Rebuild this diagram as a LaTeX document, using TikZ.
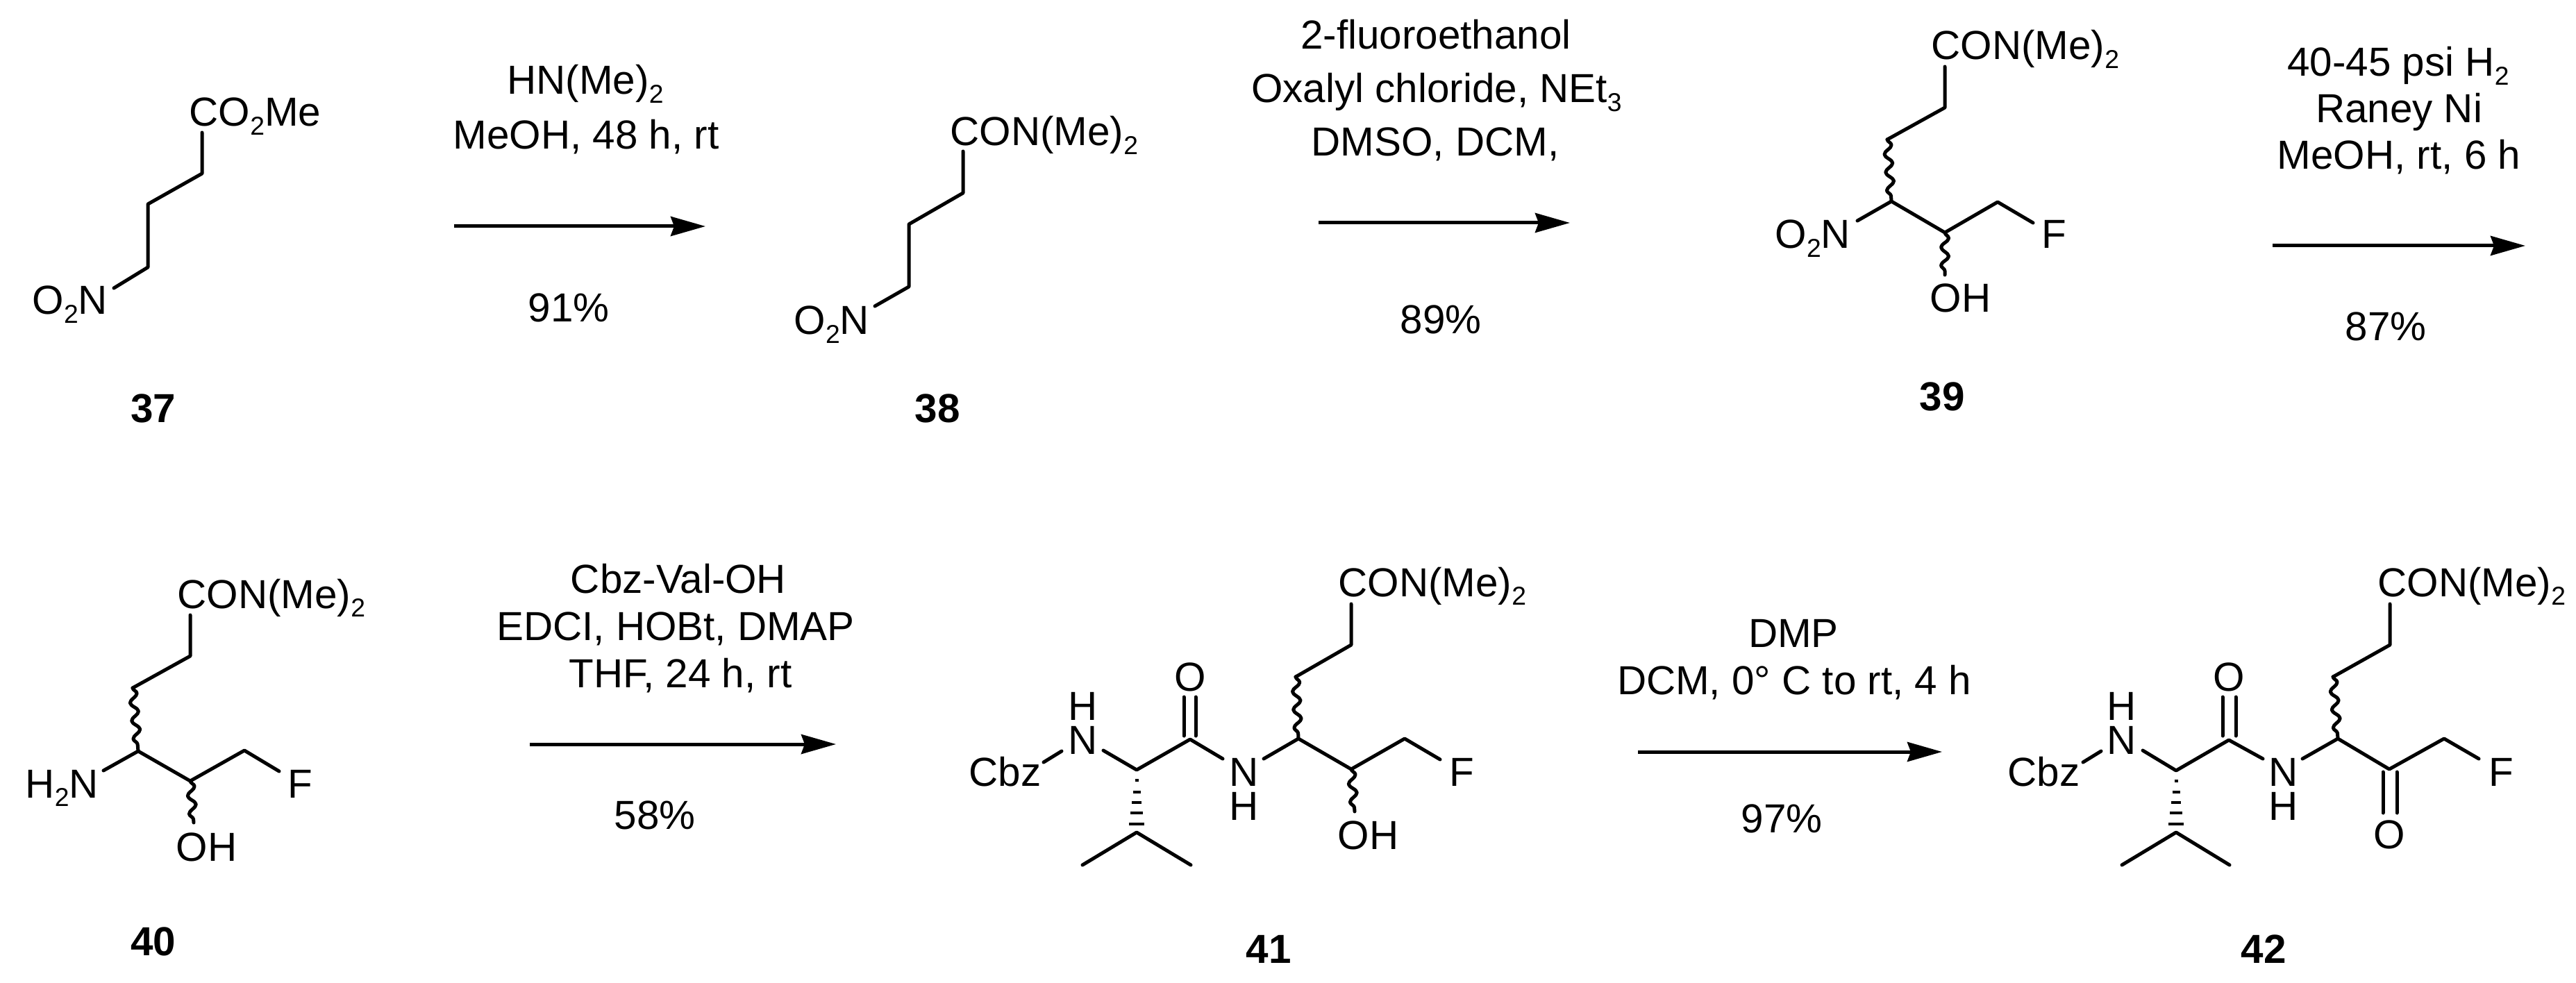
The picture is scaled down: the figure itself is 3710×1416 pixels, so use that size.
\documentclass[tikz,border=0pt]{standalone}
\usepackage{fontspec}
\setmainfont{Liberation Sans}
\usepackage{tikz}
\usetikzlibrary{arrows.meta}
\usetikzlibrary{calc}
\usetikzlibrary{decorations.pathmorphing}

\newcommand{\subs}[1]{\raisebox{-.21em}{\fontsize{10.6}{11}\selectfont #1}}
\newcommand{\hashbond}[2]{
    \foreach \t/\w in {.17/2.5,.35/5.5,.52/7,.69/9,.87/11}
        \draw[hashbar] ($(#1)!\t!(#2)+(-\w,0)$) -- ($(#1)!\t!(#2)+(\w,0)$);
}

\tikzset{
    bond/.style={line width=.05cm,line cap=round,line join=round},
    wavy/.style={bond,decorate,decoration={snake,segment length=.26cm,amplitude=.055cm}},
    hashbar/.style={line width=.04cm},
    rxn/.style={line width=.05cm,-{Stealth[length=.5cm,width=.28cm,inset=.05cm]}},
    atomlbl/.style={anchor=base west,inner sep=0pt,font=\fontsize{16.6}{18}\selectfont},
    cond/.style={anchor=base,inner sep=0pt,font=\fontsize{16.6}{18}\selectfont},
    numlbl/.style={anchor=base,inner sep=0pt,font=\fontsize{16.6}{18}\selectfont\bfseries}
}

\begin{document}
\begin{tikzpicture}[x=.01cm,y=-.01cm]
    \useasboundingbox (0,0) rectangle (3710,1416);

    % 37
    \node[atomlbl] (co37) at (272,182) {CO\subs{2}Me};
    \node[atomlbl] (no37) at (46,453) {O\subs{2}N};
    \node[numlbl] (n37) at (221,608) {37};
    \coordinate (a37) at (291,191);
    \coordinate (b37) at (291,250);
    \coordinate (c37) at (213,294);
    \coordinate (d37) at (213,385);
    \coordinate (e37) at (164,415);
    \draw[bond] (a37) -- (b37) -- (c37) -- (d37) -- (e37);

    \node[cond] (r1a) at (843,136) {HN(Me)\subs{2}};
    \node[cond] (r1b) at (844,215) {MeOH, 48 h, rt};
    \node[cond] (r1c) at (819,464) {91\%};
    \coordinate (r1s) at (654,326);
    \coordinate (r1e) at (1016,326);
    \draw[rxn] (r1s) -- (r1e);

    % 38
    \node[atomlbl] (co38) at (1368,210) {CON(Me)\subs{2}};
    \node[atomlbl] (no38) at (1143,482) {O\subs{2}N};
    \node[numlbl] (n38) at (1350,608) {38};
    \coordinate (a38) at (1387,218);
    \coordinate (b38) at (1387,278);
    \coordinate (c38) at (1309,323);
    \coordinate (d38) at (1309,413);
    \coordinate (e38) at (1260,441);
    \draw[bond] (a38) -- (b38) -- (c38) -- (d38) -- (e38);

    \node[cond] (r2a) at (2068,71) {2-fluoroethanol};
    \node[cond] (r2b) at (2069,148) {Oxalyl chloride, NEt\subs{3}};
    \node[cond] (r2c) at (2067,225) {DMSO, DCM,};
    \node[cond] (r2d) at (2075,481) {89\%};
    \coordinate (r2s) at (1899,321);
    \coordinate (r2e) at (2261,321);
    \draw[rxn] (r2s) -- (r2e);

    % 39
    \node[atomlbl] (co39) at (2781,86) {CON(Me)\subs{2}};
    \node[atomlbl] (no39) at (2556,358) {O\subs{2}N};
    \node[atomlbl] (f39) at (2940,358) {F};
    \node[atomlbl] (oh39) at (2779,450) {OH};
    \node[numlbl] (n39) at (2797,592) {39};
    \coordinate (a39) at (2801,96);
    \coordinate (b39) at (2801,155);
    \coordinate (c39) at (2718,201);
    \coordinate (d39) at (2724,290);
    \coordinate (e39) at (2675,318);
    \coordinate (g39) at (2801,335);
    \coordinate (h39) at (2877,291);
    \coordinate (i39) at (2928,321);
    \coordinate (j39) at (2801,396);
    \draw[bond] (a39) -- (b39) -- (c39);
    \draw[wavy] (c39) -- (d39);
    \draw[bond] (e39) -- (d39) -- (g39) -- (h39) -- (i39);
    \draw[wavy] (g39) -- (j39);

    \node[cond] (r3a) at (3454,110) {40-45 psi H\subs{2}};
    \node[cond] (r3b) at (3455,177) {Raney Ni};
    \node[cond] (r3c) at (3455,244) {MeOH, rt, 6 h};
    \node[cond] (r3d) at (3436,491) {87\%};
    \coordinate (r3s) at (3273,354);
    \coordinate (r3e) at (3637,354);
    \draw[rxn] (r3s) -- (r3e);

    % 40
    \node[atomlbl] (co40) at (255,876) {CON(Me)\subs{2}};
    \node[atomlbl] (nh40) at (36,1149) {H\subs{2}N};
    \node[atomlbl] (f40) at (414,1149) {F};
    \node[atomlbl] (oh40) at (253,1240) {OH};
    \node[numlbl] (n40) at (221,1376) {40};
    \coordinate (a40) at (274,886);
    \coordinate (b40) at (274,945);
    \coordinate (c40) at (191,991);
    \coordinate (d40) at (199,1082);
    \coordinate (e40) at (149,1110);
    \coordinate (g40) at (274,1125);
    \coordinate (h40) at (352,1081);
    \coordinate (i40) at (402,1111);
    \coordinate (j40) at (279,1185);
    \draw[bond] (a40) -- (b40) -- (c40);
    \draw[wavy] (c40) -- (d40);
    \draw[bond] (e40) -- (d40) -- (g40) -- (h40) -- (i40);
    \draw[wavy] (g40) -- (j40);

    \node[cond] (r4a) at (977,854) {Cbz-Val-OH};
    \node[cond] (r4b) at (973,922) {EDCI, HOBt, DMAP};
    \node[cond] (r4c) at (980,990) {THF, 24 h, rt};
    \node[cond] (r4d) at (943,1194) {58\%};
    \coordinate (r4s) at (763,1072);
    \coordinate (r4e) at (1204,1072);
    \draw[rxn] (r4s) -- (r4e);

    % 41
    \node[atomlbl] (co41) at (1927,859) {CON(Me)\subs{2}};
    \node[atomlbl] (cbz41) at (1395,1132) {Cbz};
    \node[cond] (nl41) at (1560,1086) {N};
    \node[cond] (hl41) at (1560,1037) {H};
    \node[cond] (o41) at (1714,995) {O};
    \node[cond] (nr41) at (1792,1132) {N};
    \node[cond] (hr41) at (1792,1181) {H};
    \node[atomlbl] (f41) at (2087,1132) {F};
    \node[atomlbl] (oh41) at (1926,1223) {OH};
    \node[numlbl] (n41) at (1827,1387) {41};
    \coordinate (a41) at (1946,870);
    \coordinate (b41) at (1946,929);
    \coordinate (c41) at (1866,975);
    \coordinate (d41) at (1870,1064);
    \coordinate (e41) at (1820,1093);
    \coordinate (g41) at (1946,1108);
    \coordinate (h41) at (2023,1064);
    \coordinate (i41) at (2074,1094);
    \coordinate (j41) at (1951,1169);
    \coordinate (k41) at (1761,1093);
    \coordinate (l41) at (1714,1065);
    \coordinate (m41) at (1637,1109);
    \coordinate (p41) at (1589,1081);
    \coordinate (q41) at (1529,1082);
    \coordinate (s41) at (1503,1098);
    \coordinate (u41) at (1637,1199);
    \coordinate (v41) at (1559,1246);
    \coordinate (w41) at (1715,1246);
    \coordinate (xa41) at (1705,1060);
    \coordinate (xb41) at (1705,1004);
    \coordinate (ya41) at (1722,1060);
    \coordinate (yb41) at (1722,1004);
    \draw[bond] (a41) -- (b41) -- (c41);
    \draw[wavy] (c41) -- (d41);
    \draw[bond] (e41) -- (d41) -- (g41) -- (h41) -- (i41);
    \draw[wavy] (g41) -- (j41);
    \draw[bond] (k41) -- (l41) -- (m41) -- (p41);
    \draw[bond] (q41) -- (s41);
    \draw[bond] (xa41) -- (xb41);
    \draw[bond] (ya41) -- (yb41);
    \draw[bond] (v41) -- (u41) -- (w41);
    \hashbond{m41}{u41}

    \node[cond] (r5a) at (2583,932) {DMP};
    \node[cond] (r5b) at (2584,1000) {DCM, 0° C to rt, 4 h};
    \node[cond] (r5c) at (2566,1199) {97\%};
    \coordinate (r5s) at (2359,1083);
    \coordinate (r5e) at (2797,1083);
    \draw[rxn] (r5s) -- (r5e);

    % 42
    \node[atomlbl] (co42) at (3424,859) {CON(Me)\subs{2}};
    \node[atomlbl] (cbz42) at (2891,1132) {Cbz};
    \node[cond] (nl42) at (3056,1086) {N};
    \node[cond] (hl42) at (3056,1037) {H};
    \node[cond] (o42) at (3210,995) {O};
    \node[cond] (nr42) at (3289,1132) {N};
    \node[cond] (hr42) at (3289,1181) {H};
    \node[atomlbl] (f42) at (3584,1132) {F};
    \node[cond] (ok42) at (3441,1222) {O};
    \node[numlbl] (n42) at (3260,1387) {42};
    \coordinate (a42) at (3442,870);
    \coordinate (b42) at (3442,929);
    \coordinate (c42) at (3360,975);
    \coordinate (d42) at (3367,1064);
    \coordinate (e42) at (3316,1093);
    \coordinate (g42) at (3441,1108);
    \coordinate (h42) at (3520,1064);
    \coordinate (i42) at (3570,1093);
    \coordinate (k42) at (3259,1093);
    \coordinate (l42) at (3210,1066);
    \coordinate (m42) at (3134,1110);
    \coordinate (p42) at (3086,1081);
    \coordinate (q42) at (3026,1082);
    \coordinate (s42) at (3000,1098);
    \coordinate (u42) at (3134,1199);
    \coordinate (v42) at (3056,1246);
    \coordinate (w42) at (3211,1246);
    \coordinate (xa42) at (3201,1060);
    \coordinate (xb42) at (3201,1004);
    \coordinate (ya42) at (3220,1060);
    \coordinate (yb42) at (3220,1004);
    \coordinate (za42) at (3432,1112);
    \coordinate (zb42) at (3432,1171);
    \coordinate (zc42) at (3452,1112);
    \coordinate (zd42) at (3452,1171);
    \draw[bond] (a42) -- (b42) -- (c42);
    \draw[wavy] (c42) -- (d42);
    \draw[bond] (e42) -- (d42) -- (g42) -- (h42) -- (i42);
    \draw[bond] (k42) -- (l42) -- (m42) -- (p42);
    \draw[bond] (q42) -- (s42);
    \draw[bond] (xa42) -- (xb42);
    \draw[bond] (ya42) -- (yb42);
    \draw[bond] (za42) -- (zb42);
    \draw[bond] (zc42) -- (zd42);
    \draw[bond] (v42) -- (u42) -- (w42);
    \hashbond{m42}{u42}
\end{tikzpicture}
\end{document}
